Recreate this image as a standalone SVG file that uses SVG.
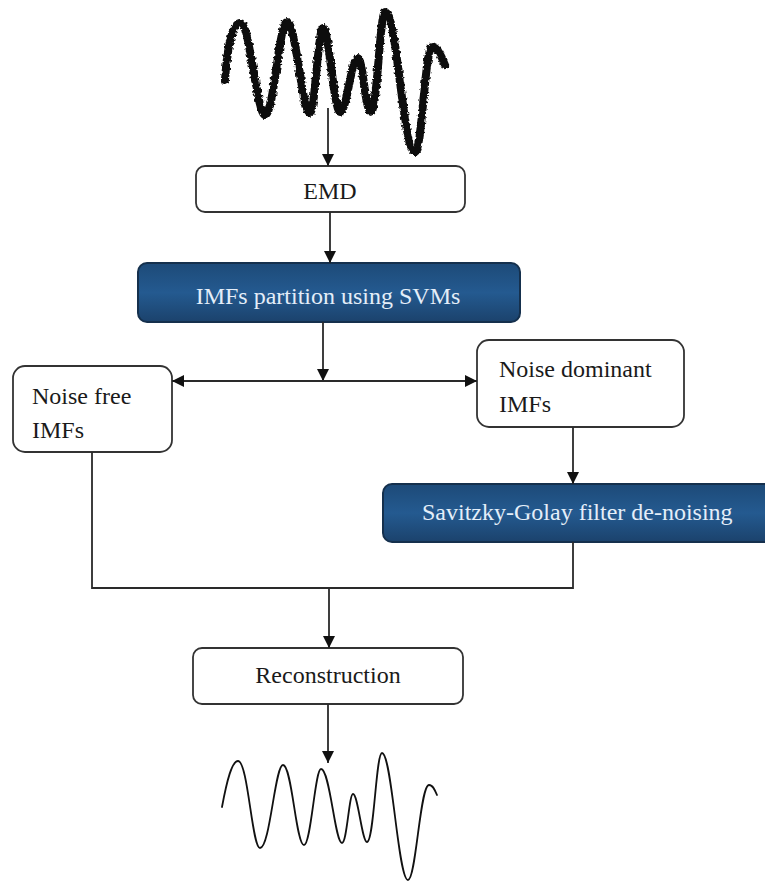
<svg xmlns="http://www.w3.org/2000/svg" width="765" height="881" viewBox="0 0 765 881">
<style>
.wbox{fill:#ffffff;stroke:#333333;stroke-width:1.8}
.bbox{fill:url(#blueGrad);stroke:#15304d;stroke-width:2}
.t{font-size:24px;fill:#1a1a1a}
.tw{font-size:24px;fill:#e4eef9}
.c{fill:none;stroke:#2a2a2a;stroke-width:1.8}
.sig{fill:none;stroke:#111111;stroke-linecap:round;stroke-linejoin:round}
</style>
<defs>
<linearGradient id="blueGrad" x1="0" y1="0" x2="0" y2="1">
<stop offset="0" stop-color="#1d4a78"/>
<stop offset="0.5" stop-color="#245a90"/>
<stop offset="1" stop-color="#1b426c"/>
</linearGradient>
<marker id="ah" markerWidth="12" markerHeight="12" viewBox="0 0 12 12" refX="12" refY="6" orient="auto" markerUnits="userSpaceOnUse">
<path d="M0,0 L12,6 L0,12 Z" fill="#111111"/>
</marker>
<filter id="rough" x="-10%" y="-10%" width="120%" height="120%">
<feTurbulence type="fractalNoise" baseFrequency="0.35" numOctaves="2" seed="3"/>
<feDisplacementMap in="SourceGraphic" scale="4" xChannelSelector="R" yChannelSelector="G"/>
</filter>
</defs>

<g id="noisy-signal">
<path class="sig" filter="url(#rough)" stroke-width="8" d="M225,80 C227,50 232,23 240,23 C250,23 257,115 265,115 C274,115 279,22 287,22 C296,22 302,113 310,113 C315,113 318,28 323,28 C329,28 334,112 340,112 C347,112 351,58 358,58 C363,58 365,112 371,112 C377,112 380,12 385,12 C397,12 403,152 415,152 C422,152 425,47 432,47 C438,47 442,58 445,65"/>
</g>

<g id="emd" font-family="Liberation Serif, DejaVu Serif, serif">
<rect class="wbox" x="196" y="166" width="269" height="46" rx="9"/>
<text class="t" x="330" y="199" text-anchor="middle">EMD</text>
</g>

<g id="imfs-partition" font-family="Liberation Serif, DejaVu Serif, serif">
<rect class="bbox" x="138" y="263" width="382" height="59" rx="9"/>
<text class="tw" x="328" y="304" text-anchor="middle">IMFs partition using SVMs</text>
</g>

<g id="noise-free" font-family="Liberation Serif, DejaVu Serif, serif">
<rect class="wbox" x="13" y="366" width="159" height="86" rx="12"/>
<text class="t" x="32" y="404">Noise free</text>
<text class="t" x="32" y="438">IMFs</text>
</g>

<g id="noise-dominant" font-family="Liberation Serif, DejaVu Serif, serif">
<rect class="wbox" x="477" y="340" width="207" height="87" rx="12"/>
<text class="t" x="499" y="377">Noise dominant</text>
<text class="t" x="499" y="412">IMFs</text>
</g>

<g id="savitzky-golay" font-family="Liberation Serif, DejaVu Serif, serif">
<rect class="bbox" x="383" y="484" width="395" height="58" rx="9"/>
<text class="tw" x="422" y="520">Savitzky-Golay filter de-noising</text>
</g>

<g id="reconstruction" font-family="Liberation Serif, DejaVu Serif, serif">
<rect class="wbox" x="193" y="648" width="270" height="56" rx="9"/>
<text class="t" x="328" y="683" text-anchor="middle">Reconstruction</text>
</g>

<g id="clean-signal">
<path class="sig" stroke-width="1.8" d="M222,807 C227,780 232,761 238,761 C248,761 252,848 260,848 C270,848 275,765 283,765 C292,765 296,845 304,845 C311,845 315,769 321,769 C330,769 335,843 342,843 C347,843 349,794 353,794 C358,794 362,842 367,842 C374,842 376,753 382,753 C392,753 398,880 408,880 C416,880 420,785 429,785 C433,785 435,790 437,795"/>
</g>

<g id="connectors">
<line class="c" x1="328" y1="108" x2="328" y2="166" marker-end="url(#ah)"/>
<line class="c" x1="330" y1="212" x2="330" y2="263" marker-end="url(#ah)"/>
<line class="c" x1="323" y1="322" x2="323" y2="381" marker-end="url(#ah)"/>
<line class="c" x1="323" y1="381" x2="172" y2="381" marker-end="url(#ah)"/>
<line class="c" x1="323" y1="381" x2="477" y2="381" marker-end="url(#ah)"/>
<line class="c" x1="573" y1="427" x2="573" y2="484" marker-end="url(#ah)"/>
<polyline class="c" points="92,452 92,588 573,588 573,542"/>
<line class="c" x1="329" y1="588" x2="329" y2="648" marker-end="url(#ah)"/>
<line class="c" x1="328" y1="704" x2="328" y2="763" marker-end="url(#ah)"/>
</g>
</svg>
